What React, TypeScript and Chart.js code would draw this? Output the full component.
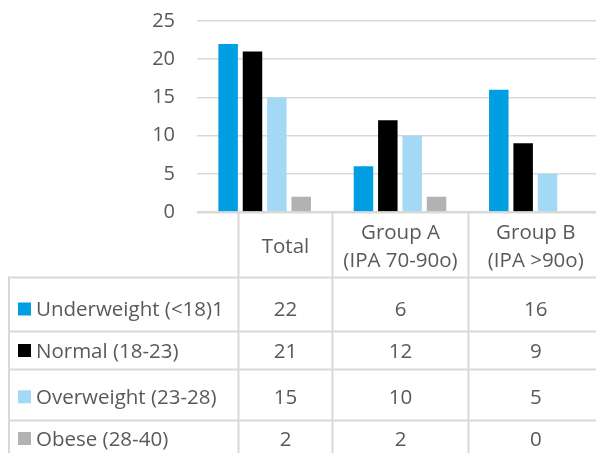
import React, { useEffect, useRef } from "react";
import { Chart, registerables } from "chart.js";

Chart.register(...registerables);

// ---- data ----
const categories: string[][] = [["Total"], ["Group A", "(IPA 70-90o)"], ["Group B", "(IPA >90o)"]];
const seriesNames = ["Underweight (<18)1", "Normal (18-23)", "Overweight (23-28)", "Obese (28-40)"];
const underweight = [22, 6, 16];
const normal = [21, 12, 9];
const overweight = [15, 10, 5];
const obese = [2, 2, 0];
const yTicks = [0, 5, 10, 15, 20, 25];

// ---- styles ----
const seriesColors = ["#009FE3", "#000000", "#A3D9F5", "#B2B2B2"];
const FONT = '"Open Sans", sans-serif';
const TEXT = "#595959";
const LINE = "#D9D9D9";

const tablePlugin = {
  id: "dataTable",
  afterDraw(chart: any) {
    const ctx: CanvasRenderingContext2D = chart.ctx;
    const xs = chart.scales.x;
    const area = chart.chartArea;
    const W = 596;
    const legendRight = 238.5;
    const tableLeft = 9;
    const rowLines = [277.5, 331.5, 369.5, 420.5];
    const rowCenters = [309, 350.5, 396.8, 438.5];
    const bottom = 470;
    const labels = chart.data.labels as string[][];
    const n = labels.length;
    const bounds: number[] = [legendRight];
    for (let i = 0; i < n - 1; i++) {
      bounds.push(Math.round((xs.getPixelForValue(i) + xs.getPixelForValue(i + 1)) / 2) + 0.5);
    }
    bounds.push(area.right);
    const capHalf = 7.3;

    const line = (x1: number, y1: number, x2: number, y2: number) => {
      ctx.beginPath();
      ctx.moveTo(x1, y1);
      ctx.lineTo(x2, y2);
      ctx.stroke();
    };

    ctx.save();
    ctx.strokeStyle = LINE;
    ctx.lineWidth = 2;
    line(area.left, area.bottom + 0.5, W, area.bottom + 0.5);
    for (let i = 0; i < n; i++) line(bounds[i], area.bottom, bounds[i], bottom);
    line(tableLeft, rowLines[0] - 1, tableLeft, bottom);
    rowLines.forEach((y) => line(tableLeft - 1, y, W, y));

    ctx.font = `20.5px ${FONT}`;
    ctx.fillStyle = TEXT;
    ctx.textBaseline = "alphabetic";
    ctx.textAlign = "center";
    labels.forEach((lab, i) => {
      const cx = (bounds[i] + bounds[i + 1]) / 2;
      const lines = Array.isArray(lab) ? lab : [lab];
      const lh = 28;
      const c = 245.5;
      lines.forEach((t, j) => {
        const cy = c + (j - (lines.length - 1) / 2) * lh;
        ctx.fillText(t, cx, cy + capHalf);
      });
    });

    chart.data.datasets.forEach((ds: any, r: number) => {
      const cy = rowCenters[r];
      ctx.fillStyle = ds.backgroundColor;
      ctx.fillRect(18, cy - 6.5, 13, 13);
      ctx.fillStyle = TEXT;
      ctx.textAlign = "left";
      ctx.fillText(ds.label, 36, cy + capHalf);
      ctx.textAlign = "center";
      (ds.data as number[]).forEach((v, i) => {
        ctx.fillText(String(v), (bounds[i] + bounds[i + 1]) / 2, cy + capHalf);
      });
    });
    ctx.restore();
  },
};

export default function App() {
  const ref = useRef<HTMLCanvasElement | null>(null);
  useEffect(() => {
    if (!ref.current) return;
    const seriesValues = [underweight, normal, overweight, obese];
    const chart = new Chart(ref.current, {
      type: "bar",
      data: {
        labels: categories,
        datasets: seriesNames.map((name, i) => ({
          label: name,
          data: seriesValues[i],
          backgroundColor: seriesColors[i],
          borderWidth: 0,
          categoryPercentage: 0.72,
          barPercentage: 0.8,
        })),
      },
      options: {
        responsive: false,
        animation: false,
        devicePixelRatio: 1,
        layout: { padding: { left: 0, right: 7, top: 21, bottom: 241 } },
        plugins: { legend: { display: false }, tooltip: { enabled: false } },
        scales: {
          x: { display: false, offset: true },
          y: {
            min: 0,
            max: 25,
            afterBuildTicks: (s: any) => {
              s.ticks = yTicks.map((v) => ({ value: v }));
            },
            afterFit: (s: any) => {
              s.width = 197;
              s.paddingTop = 0;
              s.paddingBottom = 0;
            },
            border: { display: false },
            grid: { color: LINE, lineWidth: 1.5, drawTicks: false },
            ticks: { color: TEXT, font: { family: FONT, size: 20 }, padding: 22 },
          },
        },
      },
      plugins: [tablePlugin],
    });
    return () => chart.destroy();
  }, []);

  return (
    <div
      style={{
        position: "fixed",
        left: 0,
        top: 0,
        width: 596,
        height: 453,
        overflow: "hidden",
        background: "#ffffff",
      }}
    >
      <canvas ref={ref} width={610} height={453} style={{ display: "block" }} />
    </div>
  );
}
